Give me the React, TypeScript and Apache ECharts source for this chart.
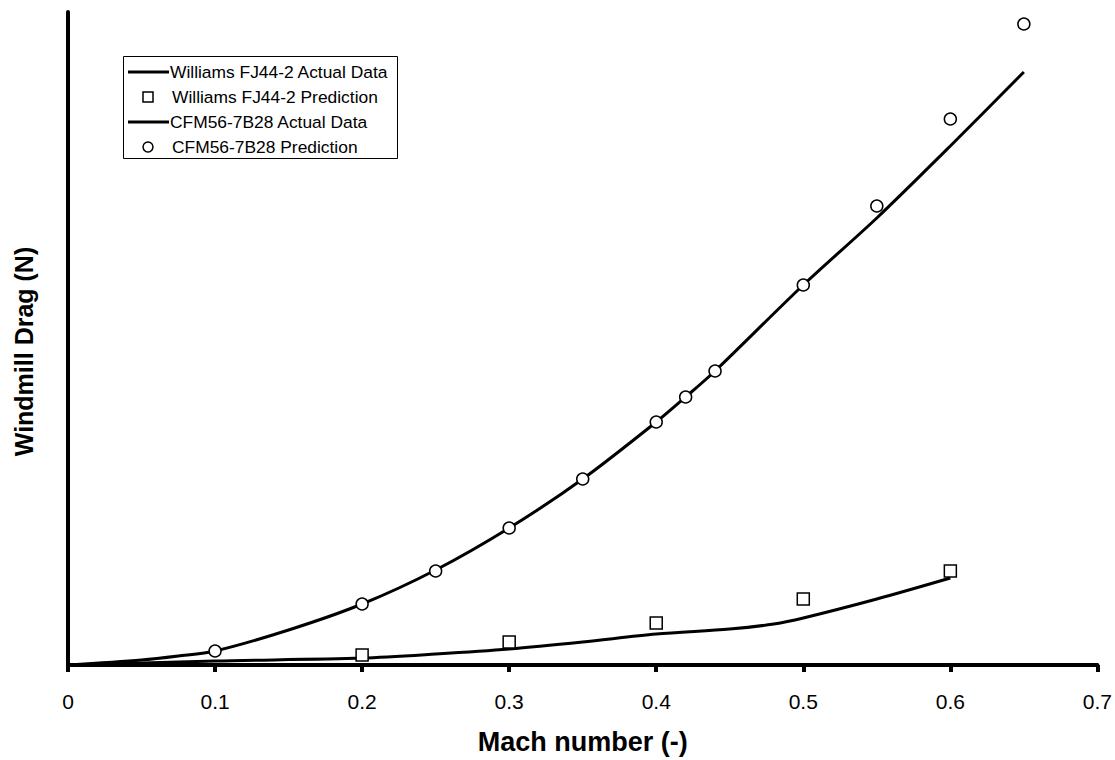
import React, { useEffect, useRef } from "react";
import * as echarts from "echarts";

// Mach numbers and windmill drag values (arbitrary drag units)
const williamsLineMach = [0, 0.1, 0.2, 0.25, 0.3, 0.35, 0.4, 0.45, 0.48, 0.5, 0.55, 0.6];
const williamsLineDrag = [0, 4, 7, 11, 16, 23, 31, 36, 41, 47, 66, 87];

const williamsPredMach = [0.2, 0.3, 0.4, 0.5, 0.6];
const williamsPredDrag = [10, 23, 42, 66, 94];

const cfmLineMach = [0, 0.05, 0.075, 0.1, 0.15, 0.2, 0.25, 0.3, 0.35, 0.4, 0.42, 0.44, 0.5, 0.55, 0.6, 0.65];
const cfmLineDrag = [0, 5, 9, 14, 35, 61, 95, 137, 186, 243, 268, 294, 380, 447, 519, 593];

const cfmPredMach = [0.1, 0.2, 0.25, 0.3, 0.35, 0.4, 0.42, 0.44, 0.5, 0.55, 0.6, 0.65];
const cfmPredDrag = [14, 61, 94, 137, 186, 243, 268, 294, 380, 459, 546, 641];

const legendNames = [
  "Williams FJ44-2 Actual Data",
  "Williams FJ44-2 Prediction",
  "CFM56-7B28 Actual Data",
  "CFM56-7B28 Prediction",
];

const FONT = 'Arial, "Liberation Sans", sans-serif';

const zip = (xs: number[], ys: number[]) => xs.map((x, i) => [x, ys[i]]);

export default function App() {
  const ref = useRef<HTMLDivElement>(null);
  useEffect(() => {
    if (!ref.current) return;
    const chart = echarts.init(ref.current, null, { renderer: "svg" });
    const rowY = [72, 97, 122, 147];
    const legendGraphics: any[] = [
      {
        type: "rect",
        shape: { x: 123.5, y: 56.5, width: 274, height: 102 },
        style: { fill: "#fff", stroke: "#000", lineWidth: 1 },
        z: 10,
      },
    ];
    rowY.forEach((y, i) => {
      if (i === 0 || i === 2) {
        legendGraphics.push({
          type: "line",
          shape: { x1: 128, y1: y, x2: 169, y2: y },
          style: { stroke: "#000", lineWidth: 3 },
          z: 11,
        });
      } else if (i === 1) {
        legendGraphics.push({
          type: "rect",
          shape: { x: 143, y: y - 5, width: 10, height: 10 },
          style: { fill: "#fff", stroke: "#000", lineWidth: 1.5 },
          z: 11,
        });
      } else {
        legendGraphics.push({
          type: "circle",
          shape: { cx: 148, cy: y, r: 5 },
          style: { fill: "#fff", stroke: "#000", lineWidth: 1.5 },
          z: 11,
        });
      }
      legendGraphics.push({
        type: "text",
        x: i === 0 || i === 2 ? 170 : 172,
        y: y,
        style: {
          text: legendNames[i],
          font: `17.4px ${FONT}`,
          fill: "#000",
          textVerticalAlign: "middle",
          verticalAlign: "middle",
        },
        z: 11,
      });
    });

    chart.setOption({
      animation: false,
      backgroundColor: "#fff",
      grid: { left: 68, right: 15, top: 12, bottom: 95, containLabel: false },
      xAxis: {
        type: "value",
        min: 0,
        max: 0.7,
        interval: 0.1,
        name: "Mach number (-)",
        nameLocation: "middle",
        nameGap: 63,
        nameTextStyle: { fontFamily: FONT, fontSize: 27, fontWeight: "bold", color: "#000" },
        axisLine: { show: true, onZero: false, lineStyle: { color: "#000", width: 4 } },
        axisTick: { show: true, length: 7, lineStyle: { color: "#000", width: 4 } },
        axisLabel: { fontFamily: FONT, fontSize: 21, color: "#000", margin: 26 },
        splitLine: { show: false },
      },
      yAxis: {
        type: "value",
        min: 0,
        max: 653,
        name: "Windmill Drag (N)",
        nameLocation: "middle",
        nameGap: 32,
        nameRotate: 90,
        nameTextStyle: {
          fontFamily: FONT,
          fontSize: 25,
          fontWeight: "bold",
          color: "#000",
          padding: [0, 26, 0, 0],
        },
        axisLine: { show: true, lineStyle: { color: "#000", width: 4 } },
        axisTick: { show: false },
        axisLabel: { show: false },
        splitLine: { show: false },
      },
      graphic: legendGraphics,
      series: [
        {
          name: legendNames[0],
          type: "line",
          data: zip(williamsLineMach, williamsLineDrag),
          symbol: "none",
          smooth: 0.3,
          lineStyle: { color: "#000", width: 3 },
          itemStyle: { color: "#000" },
          z: 2,
        },
        {
          name: legendNames[1],
          type: "scatter",
          data: zip(williamsPredMach, williamsPredDrag),
          symbol: "rect",
          symbolSize: 12,
          itemStyle: { color: "#fff", borderColor: "#000", borderWidth: 1.5, opacity: 1 },
          z: 3,
        },
        {
          name: legendNames[2],
          type: "line",
          data: zip(cfmLineMach, cfmLineDrag),
          symbol: "none",
          smooth: 0.3,
          lineStyle: { color: "#000", width: 3 },
          itemStyle: { color: "#000" },
          z: 2,
        },
        {
          name: legendNames[3],
          type: "scatter",
          data: zip(cfmPredMach, cfmPredDrag),
          symbol: "circle",
          symbolSize: 12,
          itemStyle: { color: "#fff", borderColor: "#000", borderWidth: 1.5, opacity: 1 },
          z: 3,
        },
      ],
    });
    return () => chart.dispose();
  }, []);
  return (
    <div
      ref={ref}
      style={{ position: "absolute", left: 0, top: 0, width: 1115, height: 760, background: "#fff" }}
    />
  );
}
